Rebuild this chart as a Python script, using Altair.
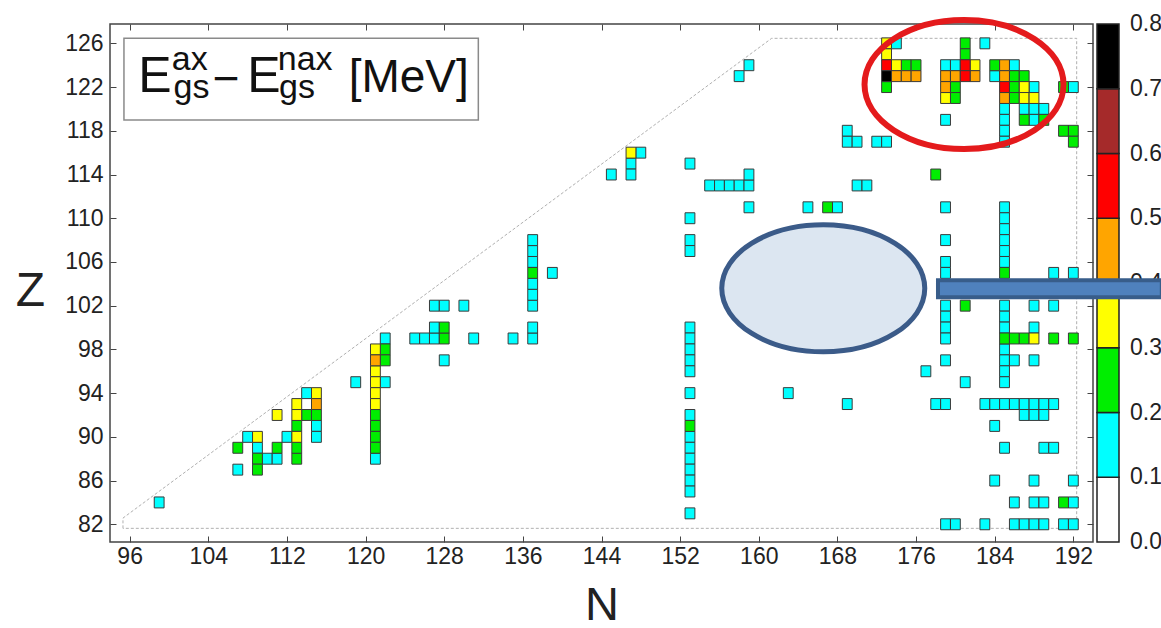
import altair as alt
import pandas as pd

# ---------------- data ----------------
# (N, Z) nuclei, grouped by the colour bin of E_gs^ax - E_gs^nax [MeV]
cells_01_02 = [
    (99, 84), (107, 87), (108, 90), (109, 89), (110, 88), (111, 88), (112, 90), (114, 94), (115, 91), (115, 90),
    (119, 95), (121, 88), (122, 99), (122, 95), (125, 99), (126, 99), (127, 99), (127, 100), (127, 102), (128, 102),
    (130, 102), (128, 97), (131, 99), (135, 99), (137, 99), (137, 100), (137, 102), (137, 103), (137, 104),
    (137, 106), (137, 107), (137, 108), (139, 105),
    (145, 114), (148, 116), (147, 115), (147, 114),
    (153, 115), (153, 110), (153, 108), (153, 107), (153, 100), (153, 99), (153, 98), (153, 97), (153, 96),
    (153, 94), (153, 92), (153, 90), (153, 89), (153, 88), (153, 87), (153, 86), (153, 85), (153, 83),
    (155, 113), (156, 113), (157, 113), (158, 113), (159, 113), (159, 114), (159, 111), (158, 123), (159, 124),
    (163, 94), (165, 111), (168, 111), (169, 93), (169, 118), (169, 117), (170, 117), (172, 117), (173, 117),
    (170, 113), (171, 113),
    (174, 126), (177, 96), (178, 93), (179, 93), (179, 124), (180, 124), (183, 126), (179, 119),
    (179, 111), (179, 108), (179, 106), (179, 105), (179, 102), (179, 101), (179, 100), (179, 99), (179, 97),
    (181, 95),
    (183, 93), (184, 93), (185, 93), (186, 93), (187, 93), (188, 93), (189, 93), (190, 93),
    (187, 92), (188, 92), (189, 92), (184, 91), (185, 89), (189, 89), (190, 89),
    (184, 86), (188, 86), (192, 86), (186, 84), (188, 84), (189, 84), (192, 84),
    (179, 82), (180, 82), (183, 82), (186, 82), (187, 82), (188, 82), (189, 82), (191, 82), (192, 82),
    (185, 111), (185, 110), (185, 109), (185, 108), (185, 107), (185, 106), (185, 102), (185, 101), (185, 100),
    (185, 98), (185, 97), (185, 96), (185, 95),
    (186, 97), (188, 97), (188, 102), (188, 100), (190, 105), (190, 102), (192, 105),
    (186, 124), (184, 123), (188, 122), (185, 120), (187, 120), (188, 120), (189, 120), (185, 119), (188, 119),
    (185, 118), (185, 117), (192, 122),
]
cells_02_03 = [
    (107, 89), (109, 88), (109, 87), (111, 89), (113, 88), (113, 89), (113, 91), (114, 92), (115, 92),
    (121, 92), (121, 91), (121, 90), (121, 89), (122, 98), (122, 97), (128, 99), (128, 100), (137, 105),
    (153, 91),
    (167, 111), (175, 124), (176, 124), (173, 122), (178, 114), (181, 126), (181, 125), (180, 122), (180, 121),
    (181, 102), (185, 105), (185, 99), (186, 99), (187, 99), (190, 99), (192, 99), (191, 84),
    (184, 124), (186, 123), (187, 123), (186, 122), (186, 121), (187, 119), (189, 119), (191, 122),
    (191, 118), (192, 118), (192, 117),
]
cells_03_04 = [
    (109, 90), (111, 92), (113, 90), (113, 92), (113, 93), (115, 94),
    (121, 98), (121, 96), (121, 95), (121, 94), (121, 93),
    (147, 116),
    (173, 126), (173, 125), (174, 124), (182, 124), (179, 121), (188, 99), (187, 122), (187, 121), (188, 121),
]
cells_04_05 = [
    (115, 93), (121, 97), (174, 123), (175, 123), (176, 123), (179, 123), (180, 123), (182, 123), (179, 122),
    (185, 124), (185, 123), (185, 121),
]
cells_05_06 = [(173, 124), (181, 124), (181, 123), (185, 122)]
cells_06_07 = []
cells_07_08 = [(173, 123)]
bin_estimate = [0.15, 0.25, 0.35, 0.45, 0.55, 0.65, 0.75]

# colour bar
cb_edges = [0.0, 0.1, 0.2, 0.3, 0.4, 0.5, 0.6, 0.7, 0.8]
cb_colors = ["#ffffff", "#00ffff", "#00ee00", "#ffff00", "#ffa500", "#ff0000", "#a52a2a", "#000000"]
cb_labels = ["0.0", "0.1", "0.2", "0.3", "0.4", "0.5", "0.6", "0.7", "0.8"]

# axes
n_ticks = [96, 104, 112, 120, 128, 136, 144, 152, 160, 168, 176, 184, 192]
z_ticks = [82, 86, 90, 94, 98, 102, 106, 110, 114, 118, 122, 126]

# dashed border of the calculated region
bound_N = [95.32, 95.32, 161.31, 192.34, 192.34, 95.32]
bound_Z = [81.63, 82.57, 126.46, 126.46, 81.63, 81.63]

# ---------------- annotations (placed in N/Z coordinates) ----------------
label_text = ["E", "ax", "gs", "\u2212", "E", "nax", "gs", "[MeV]"]
label_N = [96.88, 100.28, 100.46, 104.46, 107.97, 111.07, 111.19, 118.28]
label_Z = [121.58, 123.56, 120.97, 121.37, 121.58, 123.56, 120.97, 121.58]
label_fs = [50, 34, 34, 46, 50, 34, 34, 46]
box_N = [95.42, 131.47]
box_Z = [118.99, 126.46]
red_ellipse = (180.88, 122.23)
blue_ellipse = (166.56, 103.59)
bar_N = [178.23, 201.0]
bar_Z = [102.76, 104.32]

# ---------------- build tables ----------------
groups = [cells_01_02, cells_02_03, cells_03_04, cells_04_05, cells_05_06, cells_06_07, cells_07_08]
rows = []
for cells, v in zip(groups, bin_estimate):
    for n, z in cells:
        rows.append({"N": n, "Z": z, "dE": v})
cdf = pd.DataFrame(rows)
cdf["x0"] = cdf["N"] - 0.5
cdf["x1"] = cdf["N"] + 0.5
cdf["y0"] = cdf["Z"] - 0.5
cdf["y1"] = cdf["Z"] + 0.5

bdf = pd.DataFrame({"N": bound_N, "Z": bound_Z, "k": list(range(len(bound_N)))})
cbdf = pd.DataFrame({"lo": cb_edges[:-1], "hi": cb_edges[1:]})
cbdf["mid"] = (cbdf["lo"] + cbdf["hi"]) / 2
cbldf = pd.DataFrame({"v": cb_edges, "lab": cb_labels})
tdf = pd.DataFrame({"N": label_N, "Z": label_Z, "t": label_text, "fs": label_fs})
boxdf = pd.DataFrame({"n0": [box_N[0]], "n1": [box_N[1]], "z0": [box_Z[0]], "z1": [box_Z[1]]})
reddf = pd.DataFrame({"N": [red_ellipse[0]], "Z": [red_ellipse[1]]})
bluedf = pd.DataFrame({"N": [blue_ellipse[0]], "Z": [blue_ellipse[1]]})
bardf = pd.DataFrame({"n0": [bar_N[0]], "n1": [bar_N[1]], "z0": [bar_Z[0]], "z1": [bar_Z[1]]})

# ---------------- chart ----------------
FONT = "Liberation Sans Narrow, Liberation Sans, Arial, sans-serif"
W, H = 983, 518
xs = alt.Scale(domain=[94, 194], nice=False, zero=False)


def zs():
    return alt.Scale(domain=[80.38, 127.77], nice=False, zero=False)


cscale = alt.Scale(type="threshold", domain=cb_edges[1:-1], range=cb_colors)
tick_axis = dict(labels=False, ticks=True, tickSize=6, tickColor="#444", tickWidth=1,
                 domain=False, grid=False, title=None)

boundary = alt.Chart(bdf).mark_line(color="#b0b0b0", strokeWidth=1, strokeDash=[3, 2]).encode(
    x=alt.X("N:Q", scale=xs, axis=alt.Axis(
        orient="bottom", values=n_ticks, format="d", ticks=False, tickSize=0, domain=False, grid=False,
        labelPadding=3, labelFont=FONT, labelFontSize=23, labelColor="#222",
        title="N", titleFont=FONT, titleFontSize=47, titleFontWeight="normal", titleColor="#222",
        titleY=77, titleBaseline="alphabetic")),
    y=alt.Y("Z:Q", scale=zs(), axis=alt.Axis(
        orient="left", values=z_ticks, format="d", ticks=False, tickSize=0, domain=False, grid=False,
        labelPadding=7, labelFont=FONT, labelFontSize=23, labelColor="#222",
        title="Z", titleFont=FONT, titleFontSize=48, titleFontWeight="normal", titleColor="#222",
        titleAngle=0, titleX=-80, titleY=281, titleAlign="center", titleBaseline="alphabetic")),
    order="k:Q",
)

cells = alt.Chart(cdf).mark_rect(stroke="#3a3a3a", strokeWidth=1).encode(
    x=alt.X("x0:Q", scale=xs, axis=alt.Axis(orient="top", offset=-H, values=n_ticks, **tick_axis)),
    x2="x1:Q",
    y=alt.Y("y0:Q", scale=zs(), axis=alt.Axis(orient="right", offset=-W, values=z_ticks, **tick_axis)),
    y2="y1:Q",
    color=alt.Color("dE:Q", scale=cscale, legend=None),
)

box = alt.Chart(boxdf).mark_rect(fill="white", stroke="#8a8a8a", strokeWidth=1.5).encode(
    x=alt.X("n0:Q", scale=xs, axis=alt.Axis(orient="bottom", offset=-H, values=n_ticks, **tick_axis)),
    x2="n1:Q",
    y=alt.Y("z0:Q", scale=zs(), axis=alt.Axis(orient="left", offset=-W, values=z_ticks, **tick_axis)),
    y2="z1:Q",
)

title_txt = alt.Chart(tdf).mark_text(align="left", baseline="alphabetic", font=FONT, color="#111").encode(
    x=alt.X("N:Q", scale=xs, axis=None),
    y=alt.Y("Z:Q", scale=zs(), axis=None),
    text="t:N",
    size=alt.Size("fs:Q", scale=None, legend=None),
)

red = alt.Chart(reddf).mark_point(
    shape="M -1 0 A 1 0.648 0 1 1 1 0 A 1 0.648 0 1 1 -1 0 Z",
    filled=False, stroke="#e41a1c", strokeWidth=6, opacity=1, size=199 * 199,
).encode(x=alt.X("N:Q", scale=xs, axis=None), y=alt.Y("Z:Q", scale=zs(), axis=None))

blue = alt.Chart(bluedf).mark_point(
    shape="M -1 0 A 1 0.626 0 1 1 1 0 A 1 0.626 0 1 1 -1 0 Z",
    filled=True, fill="#dce6f1", stroke="#3b5b89", strokeWidth=5, opacity=1, size=203 * 203,
).encode(x=alt.X("N:Q", scale=xs, axis=None), y=alt.Y("Z:Q", scale=zs(), axis=None))

cb_scale = alt.Scale(domain=[0.0, 0.8], nice=False, zero=False)
cbar = alt.Chart(cbdf).mark_rect(stroke="#222", strokeWidth=1.5).encode(
    x=alt.value(987), x2=alt.value(1009),
    y=alt.Y("lo:Q", scale=cb_scale, axis=None), y2="hi:Q",
    color=alt.Color("mid:Q", scale=cscale, legend=None),
)
cbar_lab = alt.Chart(cbldf).mark_text(align="left", baseline="middle", font=FONT, fontSize=23, color="#222").encode(
    x=alt.value(1020),
    y=alt.Y("v:Q", scale=cb_scale, axis=None),
    text="lab:N",
)

bar = alt.Chart(bardf).mark_rect(fill="#4f81bd", stroke="#385d8a", strokeWidth=4).encode(
    x=alt.X("n0:Q", scale=xs, axis=None), x2="n1:Q",
    y=alt.Y("z0:Q", scale=zs(), axis=None), y2="z1:Q",
)

chart = alt.layer(
    boundary, box, cells, title_txt, red, blue, cbar, cbar_lab, bar
).resolve_scale(y="independent").resolve_axis(x="independent", y="independent").properties(
    width=W, height=H,
    padding={"left": 110, "top": 24, "right": 1161 - 110 - W, "bottom": 628 - 24 - H},
    autosize=alt.AutoSizeParams(type="none"),
    background="white",
).configure_view(stroke="#444", strokeWidth=1.5)

chart.save("out.html", embed_options={"renderer": "svg", "actions": False})
